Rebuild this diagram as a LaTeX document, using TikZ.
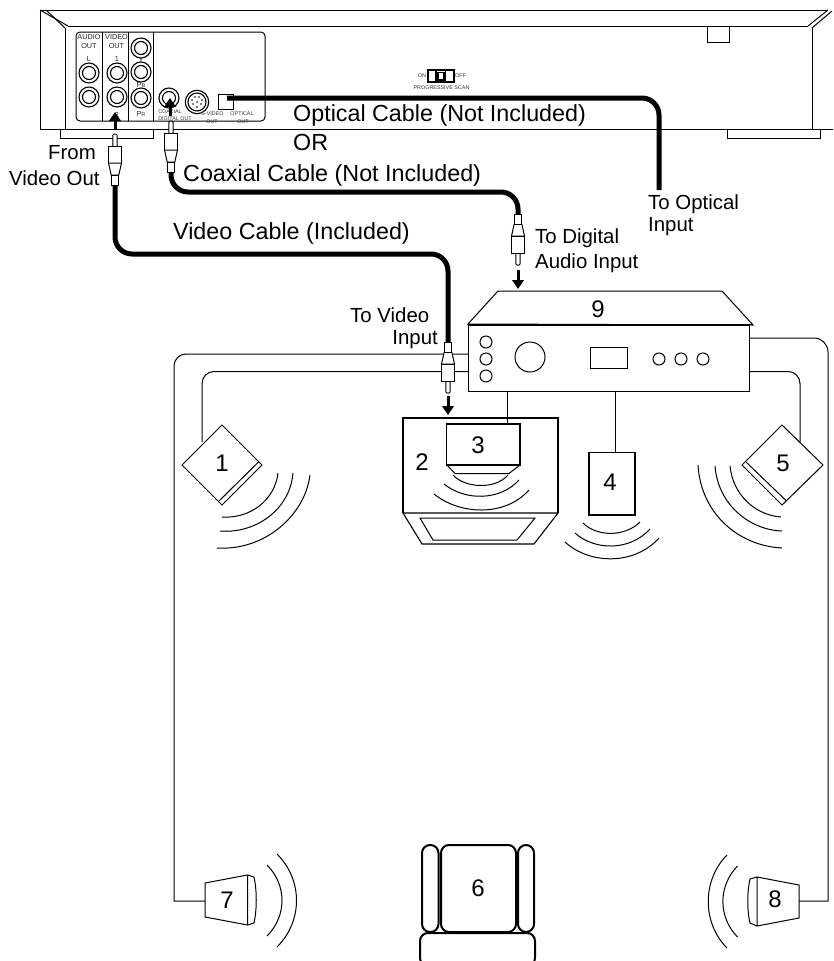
\documentclass[tikz,border=0pt]{standalone}
\usepackage{fontspec}
\setmainfont{Liberation Sans}
\usetikzlibrary{arrows.meta,calc}
\tikzset{
  x=1pt,y=-1pt,
  line/.style={draw=black,line width=1pt},
  heavy/.style={draw=black,line width=2pt},
  cable/.style={draw=black,line width=5pt,rounded corners=17pt},
  wire/.style={draw=black,line width=1pt},
  dirarrow/.style={draw=black,line width=3pt,-{Triangle[width=11.5pt,length=9pt]}},
  big/.style={font=\fontsize{23.3}{26}\selectfont,inner sep=0pt,anchor=west},
  mid/.style={font=\fontsize{20.4}{24}\selectfont,inner sep=0pt},
  digit/.style={font=\fontsize{24}{26}\selectfont,inner sep=0pt},
  tiny/.style={font=\fontsize{5.4}{6}\selectfont,inner sep=0pt,text=black!80},
  small/.style={font=\fontsize{7.3}{8}\selectfont,inner sep=0pt,text=black!85},
  pics/plug/.style={code={
    \path[line,fill=white,rounded corners=1.2pt] (-2.2,13) -- (-2.2,0) -- (2.2,0) -- (2.2,13) -- cycle;
    \path[line,fill=white] (-6.5,12) rectangle (6.5,29);
    \path[line,fill=white] (-6.5,29) -- (-3.8,41) -- (3.8,41) -- (6.5,29) -- cycle;
    \path[line,fill=white] (-3.8,41) rectangle (3.8,51);
  }},
  pics/jack/.style={code={
    \path[line width=1.1pt,draw=black,fill=white] (0,0) circle (10);
    \path[line width=1.1pt,draw=black] (0,0) circle (6.5);
  }}
}
\begin{document}
\begin{tikzpicture}
\path[use as bounding box] (0,0) rectangle (833,961);
\fill[white] (0,0) rectangle (833,961);
\begin{scope}
\clip (0,0) rectangle (833,961);

% ---------- player
\draw[line] (40,10) -- (828,10);
\draw[line] (68,26) -- (808,26);
\draw[line] (40,10) -- (40,129) -- (833,129);
\draw[line] (65,28) -- (65,129);
\draw[line] (812,28) -- (812,129);
\draw[line] (40,10) -- (68,26);
\draw[line] (46,10) -- (65,28);
\draw[line] (808,26) -- (828,10);
\draw[line] (812,28) -- (832,11);
\draw[line] (60,129) -- (60,138) -- (153,138) -- (153,129);
\draw[line] (727,129) -- (727,138) -- (820,138) -- (820,129);
\draw[line] (707,26) -- (707,42) -- (729,42) -- (729,26);
\draw[line,rounded corners=4pt] (76,32) rectangle (265,121);
\foreach \px in {102.5,128.5,153.5} \draw[line] (\px,32) -- (\px,121);

\pic at (89,73) {jack};
\pic at (89,97) {jack};
\pic at (117,73) {jack};
\pic at (117,97) {jack};
\pic at (141,48) {jack};
\pic at (141,72) {jack};
\pic at (141,98) {jack};
\pic at (169,98) {jack};
\draw[line width=1.1pt] (197,102) circle (11.7);
\draw[line width=1.1pt] (197,102) circle (9);
\foreach \dx/\dy in {-5/-2,-2/-5,2/-5,5/-2,-4/2,0/0,4/2,0/5} \fill (197+\dx,102+\dy) circle (0.9);
\node[line,minimum width=15pt,minimum height=15pt,inner sep=0pt,fill=white] (optport) at (225.5,101.5) {};

\node[small] (audio) at (89,37) {AUDIO};
\node[small] (audioout) at (89,46) {OUT};
\node[small] (video) at (116.5,37) {VIDEO};
\node[small] (videoout) at (116.5,46) {OUT};
\node[small] (lbl) at (89,59) {L};
\node[small] (lone) at (117,59) {1};
\node[small] (lty) at (141,59.5) {Y};
\node[small] (lpb) at (141,85) {P\raisebox{-.1ex}{\fontsize{5.5}{6}\selectfont B}};
\node[small] (lpr) at (141,114) {P\raisebox{-.1ex}{\fontsize{5.5}{6}\selectfont R}};
\node[small] (ltwo) at (117,115) {2};
\node[tiny] (coax1) at (170,112) {COAXIAL};
\node[tiny] (coax2) at (175,119) {DIGITAL OUT};
\node[tiny] (sv1) at (212.5,114) {S-VIDEO};
\node[tiny] (sv2) at (212,122) {OUT};
\node[tiny] (op1) at (242,114) {OPTICAL};
\node[tiny] (op2) at (243,122) {OUT};

\node[tiny] (on) at (422,76) {ON};
\node[tiny] (off) at (460.5,76) {OFF};
\node[tiny] (prog) at (441.5,88) {PROGRESSIVE SCAN};
\draw[line width=1.5pt] (428,70) rectangle (454,82);
\draw[line width=1.5pt] (436,70) -- (436,82);
\draw[line width=1.5pt] (445.5,70) -- (445.5,82);
\draw[line width=1.2pt] (438,72.5) rectangle (444,80);

% ---------- speaker wires
\coordinate (rxL1) at (468,354);
\coordinate (rxL2) at (468,371.5);
\coordinate (rxR1) at (749,338);
\coordinate (rxR2) at (749,371.5);
\coordinate (spk7port) at (205,901);
\coordinate (spk8port) at (799,901);
\coordinate (spk1port) at (202,442);
\coordinate (spk5port) at (800,442);
\draw[wire] (rxL1) [rounded corners=12pt] -- (174,354) [sharp corners] -- (174,901) -- (spk7port);
\draw[wire] (rxL2) [rounded corners=12pt] -- (202,371.5) -- (spk1port);
\draw[wire] (rxR1) [rounded corners=14pt] -- (828,338) [sharp corners] -- (828,901) -- (spk8port);
\draw[wire] (rxR2) [rounded corners=12pt] -- (800,371.5) -- (spk5port);

% ---------- receiver
\node[line,fill=white,minimum width=281pt,minimum height=66pt,inner sep=0pt,anchor=north west] (receiver) at (468,325) {};
\draw[line] (468,324) -- (498,291) -- (722,291) -- (753,325) -- cycle;
\draw[line width=1.8pt] (468,324.5) -- (753,324.5);
\node[digit] (n9) at (598,309) {9};
\foreach \cy in {342,359,376} \draw[line] (486,\cy) circle (6);
\draw[line] (530,357) circle (15);
\draw[line] (590,347) rectangle (627,368);
\foreach \cx in {659,681,703} \draw[line] (\cx,359) circle (6);

\coordinate (rx3) at (507,391);
\coordinate (rx4) at (615,391);
\coordinate (spk3top) at (507,424);
\coordinate (spk4top) at (615,452.5);
\draw[line] (rx4) -- (spk4top);

% ---------- speaker 1
\draw[line,fill=white] (222,425) -- (262,465) -- (222,505) -- (182,465) -- cycle;
\draw[line] (259,461.5) -- (218.5,501.5);
\node[digit] (n1) at (222,463) {1};
\draw[line] (278,473) .. controls (275,500) and (250,519) .. (222,517);
\draw[line] (293,473) .. controls (290,510) and (255,534) .. (220,531);
\draw[line] (310,475) .. controls (305,515) and (265,551) .. (217,548);

% ---------- speaker 5
\draw[line,fill=white] (782,425) -- (823,465) -- (782,505) -- (742,465) -- cycle;
\draw[line] (746,462) -- (786,500.5);
\node[digit] (n5) at (783,463) {5};
\draw[line] (730,466) .. controls (733,495) and (755,515) .. (781,517);
\draw[line] (715,466) .. controls (718,505) and (750,530) .. (782,531);
\draw[line] (698,465) .. controls (701,515) and (740,546) .. (782,548);

% ---------- display with centre speaker 3
\draw[line,line width=1.1pt] (403,513) -- (403,418) -- (558,418) -- (558,513);
\draw[line,line width=1.1pt] (403,513) -- (558,513) -- (534,544) -- (422,544) -- cycle;
\draw[line] (420,518) -- (535,518) -- (517,540) -- (433,540) -- cycle;
\node[digit] (n2) at (422,462) {2};
\draw[line] (rx3) -- (spk3top);
\draw[line,line width=1.1pt] (446.5,465) -- (446.5,424) -- (520,424) -- (520,465);
\draw[line width=2.6pt] (446,465) -- (521,465);
\draw[line] (447,465) -- (455,473.5) -- (509,473.5) -- (520,465);
\node[digit] (n3) at (478,445) {3};
\draw[line] (453,475) .. controls (465,488) and (495,490) .. (508,475);
\draw[line] (444,484) .. controls (465,501) and (500,501) .. (519,480);
\draw[line] (434,494) .. controls (460,515) and (505,517) .. (529,490);

% ---------- speaker 4
\draw[line,line width=1.1pt] (589,452.5) rectangle (635,515);
\node[digit] (n4) at (610,482) {4};
\draw[line] (583,523) .. controls (597,537) and (625,537) .. (640,522);
\draw[line] (575,533) .. controls (595,551) and (630,551) .. (650,529);
\draw[line] (565,542) .. controls (590,565) and (635,565) .. (659,538);

% ---------- speaker 7
\draw[line] (205,883) -- (247.5,875) -- (247.5,925) -- (205,917) -- cycle;
\draw[line] (247.5,875) -- (254,877) .. controls (257,890) and (257,910) .. (254,923) -- (247.5,925);
\node[digit] (n7) at (227,900) {7};
\draw[line] (267,865) .. controls (287,885) and (287,916) .. (267,936);
\draw[line] (277,854) .. controls (303,880) and (303,921) .. (277,947);

% ---------- speaker 8
\draw[line] (799,885) -- (757,877) -- (757,926) -- (799,918) -- cycle;
\draw[line] (757,877) -- (750,879) .. controls (747,892) and (747,911) .. (750,923) -- (757,926);
\node[digit] (n8) at (775,899) {8};
\draw[line] (737.5,866) .. controls (718,886) and (718,917) .. (737.5,937);
\draw[line] (727,855) .. controls (702,880) and (702,923) .. (727,948);

% ---------- chair
\draw[heavy,rounded corners=8pt] (441,845) rectangle (516,932);
\draw[heavy,rounded corners=8pt] (422,845) rectangle (438.5,932);
\draw[heavy,rounded corners=8pt] (518,845) rectangle (534,932);
\draw[heavy,rounded corners=8pt] (420,933) rectangle (535,966);
\node[digit] (n6) at (478,888) {6};

% ---------- cables
\node[inner sep=0pt,minimum size=0pt] (optfrom) at (227,98) {};
\coordinate (optend) at (659,190);
\draw[cable] (optfrom.center) -- (659,98) -- (optend);

\coordinate (coaxcollar) at (171,171);
\coordinate (digcollar) at (518,214);
\draw[cable] (coaxcollar) -- (171,192) -- (518,192) -- (digcollar);

\coordinate (vidcollar) at (115,184);
\coordinate (vidcollar2) at (448,343);
\draw[cable] (vidcollar) -- (115,254) -- (448,254) -- (vidcollar2);

\pic at (171,121) {plug};
\pic at (115,134) {plug};
\pic[yscale=-1] at (518,265) {plug};
\pic[yscale=-1] at (448,393) {plug};

% ---------- arrows
\coordinate (a1s) at (115,129); \coordinate (a1e) at (115,112);
\coordinate (a2s) at (170,116); \coordinate (a2e) at (170,98);
\coordinate (a3s) at (518,270); \coordinate (a3e) at (518,289);
\coordinate (a4s) at (448,396); \coordinate (a4e) at (448,415);
\draw[dirarrow] (a1s) -- (a1e);
\draw[dirarrow] (a2s) -- (a2e);
\draw[dirarrow] (a3s) -- (a3e);
\draw[dirarrow] (a4s) -- (a4e);

% ---------- labels
\node[big] (optlabel) at (293,115) {Optical Cable (Not Included)};
\node[big] (orlabel) at (293,142) {OR};
\node[big] (coaxlabel) at (183,175) {Coaxial Cable (Not Included)};
\node[big] (vidlabel) at (173,233) {Video Cable (Included)};
\node[mid,anchor=west] (from) at (48,153) {From};
\node[mid,anchor=west] (vo) at (9,178) {Video Out};
\node[mid,anchor=west] (to1) at (648,204) {To Optical};
\node[mid,anchor=west] (to2) at (648,227) {Input};
\node[mid,anchor=west] (td1) at (535,238) {To Digital};
\node[mid,anchor=west] (td2) at (535,263) {Audio Input};
\node[mid,anchor=west] (tv1) at (350,315) {To Video};
\node[mid,anchor=east] (tv2) at (438,340) {Input};
\end{scope}
\end{tikzpicture}
\end{document}
